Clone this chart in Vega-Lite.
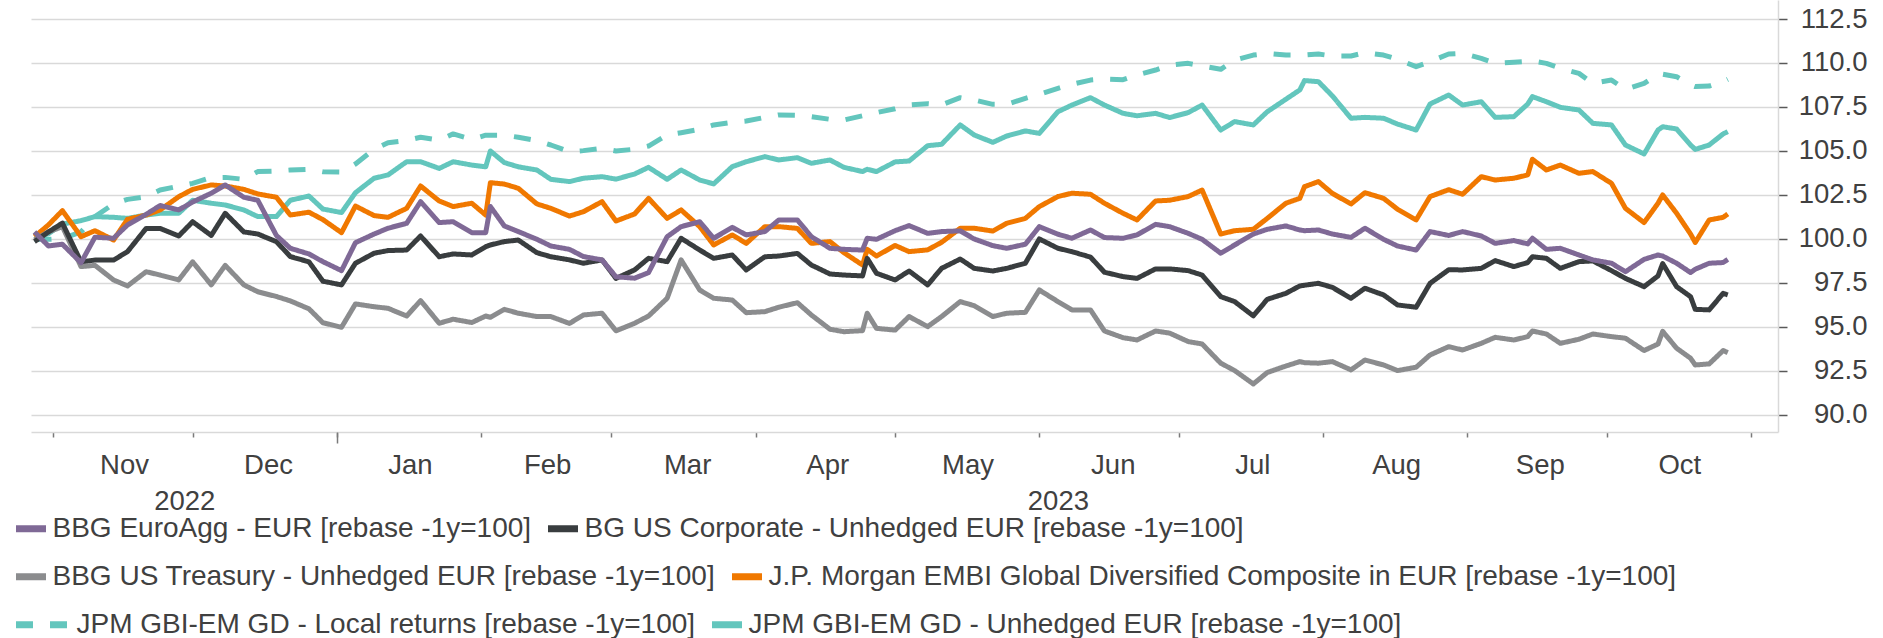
{
  "$schema": "https://vega.github.io/schema/vega-lite/v6.json",
  "width": 1747,
  "height": 432,
  "autosize": {"type": "none"},
  "padding": {"left": 31, "top": 0, "right": 105, "bottom": 206},
  "background": "white",
  "config": {"view": {"stroke": null}, "font": "Liberation Sans"},
  "data": {"values": [
    {"date":"2022-10-28","ea":100.4,"corp":99.85,"tsy":99.94,"embi":100.13,"gbil":99.98,"gbiu":100.1},
    {"date":"2022-10-31","ea":99.6,"corp":100.4,"tsy":100.4,"embi":100.8,"gbil":99.98,"gbiu":100.3},
    {"date":"2022-11-03","ea":99.7,"corp":100.9,"tsy":100.7,"embi":101.61,"gbil":100.02,"gbiu":100.85},
    {"date":"2022-11-07","ea":98.65,"corp":98.7,"tsy":98.43,"embi":100.13,"gbil":100.4,"gbiu":101.04},
    {"date":"2022-11-10","ea":100.1,"corp":98.8,"tsy":98.5,"embi":100.47,"gbil":101.27,"gbiu":101.27},
    {"date":"2022-11-14","ea":100.04,"corp":98.8,"tsy":97.67,"embi":99.94,"gbil":101.99,"gbiu":101.23},
    {"date":"2022-11-17","ea":100.8,"corp":99.28,"tsy":97.33,"embi":101.12,"gbil":102.25,"gbiu":101.17},
    {"date":"2022-11-21","ea":101.4,"corp":100.6,"tsy":98.14,"embi":101.36,"gbil":102.4,"gbiu":101.36},
    {"date":"2022-11-24","ea":101.9,"corp":100.6,"tsy":97.95,"embi":101.65,"gbil":102.78,"gbiu":101.46},
    {"date":"2022-11-28","ea":101.65,"corp":100.17,"tsy":97.67,"embi":102.4,"gbil":103.0,"gbiu":101.46},
    {"date":"2022-12-01","ea":102.1,"corp":100.98,"tsy":98.7,"embi":102.82,"gbil":103.16,"gbiu":102.2},
    {"date":"2022-12-05","ea":102.6,"corp":100.2,"tsy":97.39,"embi":103.07,"gbil":103.49,"gbiu":102.03},
    {"date":"2022-12-08","ea":103.07,"corp":101.46,"tsy":98.5,"embi":103.01,"gbil":103.5,"gbiu":101.93},
    {"date":"2022-12-12","ea":102.37,"corp":100.4,"tsy":97.39,"embi":102.82,"gbil":103.39,"gbiu":101.65},
    {"date":"2022-12-15","ea":102.2,"corp":100.28,"tsy":97.0,"embi":102.56,"gbil":103.83,"gbiu":101.27},
    {"date":"2022-12-19","ea":100.2,"corp":99.85,"tsy":96.73,"embi":102.37,"gbil":103.86,"gbiu":101.27},
    {"date":"2022-12-22","ea":99.47,"corp":99.0,"tsy":96.48,"embi":101.36,"gbil":103.92,"gbiu":102.2},
    {"date":"2022-12-26","ea":99.15,"corp":98.7,"tsy":96.03,"embi":101.52,"gbil":103.96,"gbiu":102.44},
    {"date":"2022-12-29","ea":98.71,"corp":97.6,"tsy":95.24,"embi":101.1,"gbil":103.82,"gbiu":101.7},
    {"date":"2023-01-02","ea":98.2,"corp":97.39,"tsy":94.98,"embi":100.36,"gbil":103.8,"gbiu":101.5},
    {"date":"2023-01-05","ea":99.79,"corp":98.62,"tsy":96.31,"embi":101.87,"gbil":104.26,"gbiu":102.63},
    {"date":"2023-01-09","ea":100.28,"corp":99.19,"tsy":96.15,"embi":101.33,"gbil":105.1,"gbiu":103.45},
    {"date":"2023-01-12","ea":100.61,"corp":99.34,"tsy":96.06,"embi":101.23,"gbil":105.47,"gbiu":103.64},
    {"date":"2023-01-16","ea":100.89,"corp":99.37,"tsy":95.62,"embi":101.74,"gbil":105.6,"gbiu":104.39},
    {"date":"2023-01-19","ea":102.12,"corp":100.17,"tsy":96.5,"embi":103.01,"gbil":105.78,"gbiu":104.39},
    {"date":"2023-01-23","ea":100.93,"corp":98.99,"tsy":95.21,"embi":102.16,"gbil":105.62,"gbiu":104.01},
    {"date":"2023-01-26","ea":100.98,"corp":99.15,"tsy":95.44,"embi":101.84,"gbil":105.97,"gbiu":104.39},
    {"date":"2023-01-30","ea":100.36,"corp":99.09,"tsy":95.25,"embi":102.03,"gbil":105.66,"gbiu":104.2},
    {"date":"2023-02-02","ea":100.36,"corp":99.56,"tsy":95.62,"embi":101.36,"gbil":105.9,"gbiu":104.1},
    {"date":"2023-02-03","ea":101.84,"corp":99.66,"tsy":95.55,"embi":103.2,"gbil":105.9,"gbiu":105.0},
    {"date":"2023-02-06","ea":100.74,"corp":99.85,"tsy":96.0,"embi":103.12,"gbil":105.9,"gbiu":104.34},
    {"date":"2023-02-09","ea":100.42,"corp":99.94,"tsy":95.78,"embi":102.88,"gbil":105.78,"gbiu":104.1},
    {"date":"2023-02-13","ea":99.98,"corp":99.22,"tsy":95.59,"embi":101.99,"gbil":105.59,"gbiu":103.92},
    {"date":"2023-02-16","ea":99.6,"corp":98.99,"tsy":95.59,"embi":101.74,"gbil":105.34,"gbiu":103.39},
    {"date":"2023-02-20","ea":99.41,"corp":98.81,"tsy":95.2,"embi":101.3,"gbil":104.96,"gbiu":103.26},
    {"date":"2023-02-23","ea":99.0,"corp":98.62,"tsy":95.68,"embi":101.55,"gbil":105.02,"gbiu":103.45},
    {"date":"2023-02-27","ea":98.81,"corp":98.81,"tsy":95.78,"embi":102.12,"gbil":105.15,"gbiu":103.54},
    {"date":"2023-03-02","ea":97.85,"corp":97.76,"tsy":94.78,"embi":101.02,"gbil":105.0,"gbiu":103.4},
    {"date":"2023-03-06","ea":97.77,"corp":98.24,"tsy":95.21,"embi":101.42,"gbil":105.1,"gbiu":103.69},
    {"date":"2023-03-09","ea":98.09,"corp":98.9,"tsy":95.62,"embi":102.31,"gbil":105.28,"gbiu":104.07},
    {"date":"2023-03-13","ea":100.13,"corp":98.71,"tsy":96.63,"embi":101.17,"gbil":105.91,"gbiu":103.39},
    {"date":"2023-03-16","ea":100.7,"corp":100.04,"tsy":98.81,"embi":101.65,"gbil":106.04,"gbiu":103.92},
    {"date":"2023-03-20","ea":100.98,"corp":99.37,"tsy":97.1,"embi":100.7,"gbil":106.23,"gbiu":103.35},
    {"date":"2023-03-23","ea":100.04,"corp":98.9,"tsy":96.63,"embi":99.66,"gbil":106.48,"gbiu":103.13},
    {"date":"2023-03-27","ea":100.66,"corp":99.09,"tsy":96.53,"embi":100.23,"gbil":106.63,"gbiu":104.11},
    {"date":"2023-03-30","ea":100.23,"corp":98.24,"tsy":95.81,"embi":99.75,"gbil":106.7,"gbiu":104.39},
    {"date":"2023-04-03","ea":100.42,"corp":98.99,"tsy":95.87,"embi":100.7,"gbil":106.91,"gbiu":104.68},
    {"date":"2023-04-06","ea":101.08,"corp":99.03,"tsy":96.12,"embi":100.7,"gbil":107.05,"gbiu":104.49},
    {"date":"2023-04-10","ea":101.08,"corp":99.18,"tsy":96.38,"embi":100.6,"gbil":107.03,"gbiu":104.62},
    {"date":"2023-04-13","ea":100.13,"corp":98.52,"tsy":95.68,"embi":99.75,"gbil":106.95,"gbiu":104.3},
    {"date":"2023-04-17","ea":99.47,"corp":98.01,"tsy":94.87,"embi":99.85,"gbil":106.8,"gbiu":104.49},
    {"date":"2023-04-20","ea":99.41,"corp":97.95,"tsy":94.73,"embi":99.22,"gbil":106.76,"gbiu":104.07},
    {"date":"2023-04-24","ea":99.37,"corp":97.9,"tsy":94.79,"embi":98.52,"gbil":107.0,"gbiu":103.83},
    {"date":"2023-04-25","ea":100.04,"corp":98.9,"tsy":95.78,"embi":99.41,"gbil":107.08,"gbiu":103.96},
    {"date":"2023-04-27","ea":99.98,"corp":98.05,"tsy":94.92,"embi":99.03,"gbil":107.18,"gbiu":103.83},
    {"date":"2023-05-01","ea":100.47,"corp":97.67,"tsy":94.82,"embi":99.63,"gbil":107.4,"gbiu":104.38},
    {"date":"2023-05-04","ea":100.76,"corp":98.18,"tsy":95.59,"embi":99.28,"gbil":107.62,"gbiu":104.43},
    {"date":"2023-05-08","ea":100.32,"corp":97.39,"tsy":95.02,"embi":99.38,"gbil":107.69,"gbiu":105.3},
    {"date":"2023-05-11","ea":100.42,"corp":98.33,"tsy":95.59,"embi":99.81,"gbil":107.62,"gbiu":105.38},
    {"date":"2023-05-15","ea":100.46,"corp":98.86,"tsy":96.44,"embi":100.61,"gbil":108.03,"gbiu":106.48},
    {"date":"2023-05-18","ea":100.0,"corp":98.33,"tsy":96.21,"embi":100.61,"gbil":107.9,"gbiu":105.91},
    {"date":"2023-05-22","ea":99.62,"corp":98.18,"tsy":95.59,"embi":100.45,"gbil":107.65,"gbiu":105.49},
    {"date":"2023-05-25","ea":99.47,"corp":98.33,"tsy":95.78,"embi":100.89,"gbil":107.65,"gbiu":105.85},
    {"date":"2023-05-29","ea":99.7,"corp":98.62,"tsy":95.83,"embi":101.17,"gbil":107.99,"gbiu":106.14},
    {"date":"2023-06-01","ea":100.7,"corp":100.0,"tsy":97.1,"embi":101.84,"gbil":108.22,"gbiu":106.0},
    {"date":"2023-06-05","ea":100.27,"corp":99.47,"tsy":96.44,"embi":102.41,"gbil":108.56,"gbiu":107.23},
    {"date":"2023-06-08","ea":100.04,"corp":99.28,"tsy":95.97,"embi":102.6,"gbil":108.79,"gbiu":107.61},
    {"date":"2023-06-12","ea":100.51,"corp":98.97,"tsy":95.97,"embi":102.54,"gbil":109.03,"gbiu":108.03},
    {"date":"2023-06-15","ea":100.08,"corp":98.11,"tsy":94.77,"embi":102.03,"gbil":109.09,"gbiu":107.61},
    {"date":"2023-06-19","ea":100.04,"corp":97.86,"tsy":94.39,"embi":101.46,"gbil":109.05,"gbiu":107.14},
    {"date":"2023-06-22","ea":100.23,"corp":97.76,"tsy":94.26,"embi":101.08,"gbil":109.32,"gbiu":107.0},
    {"date":"2023-06-26","ea":100.83,"corp":98.3,"tsy":94.77,"embi":102.16,"gbil":109.6,"gbiu":107.14},
    {"date":"2023-06-29","ea":100.7,"corp":98.3,"tsy":94.65,"embi":102.2,"gbil":109.88,"gbiu":106.9},
    {"date":"2023-07-03","ea":100.32,"corp":98.2,"tsy":94.17,"embi":102.41,"gbil":109.98,"gbiu":107.18},
    {"date":"2023-07-06","ea":99.98,"corp":97.95,"tsy":94.03,"embi":102.78,"gbil":109.83,"gbiu":107.61},
    {"date":"2023-07-10","ea":99.19,"corp":96.72,"tsy":92.94,"embi":100.28,"gbil":109.64,"gbiu":106.19},
    {"date":"2023-07-13","ea":99.66,"corp":96.44,"tsy":92.52,"embi":100.47,"gbil":110.17,"gbiu":106.67},
    {"date":"2023-07-17","ea":100.28,"corp":95.63,"tsy":91.76,"embi":100.55,"gbil":110.45,"gbiu":106.48},
    {"date":"2023-07-20","ea":100.55,"corp":96.57,"tsy":92.41,"embi":101.17,"gbil":110.55,"gbiu":107.23},
    {"date":"2023-07-24","ea":100.74,"corp":96.91,"tsy":92.78,"embi":102.03,"gbil":110.45,"gbiu":107.94},
    {"date":"2023-07-27","ea":100.51,"corp":97.33,"tsy":93.03,"embi":102.31,"gbil":110.45,"gbiu":108.47},
    {"date":"2023-07-28","ea":100.47,"corp":97.37,"tsy":92.97,"embi":102.97,"gbil":110.45,"gbiu":109.0},
    {"date":"2023-07-31","ea":100.51,"corp":97.48,"tsy":92.94,"embi":103.26,"gbil":110.51,"gbiu":108.94},
    {"date":"2023-08-03","ea":100.28,"corp":97.25,"tsy":93.03,"embi":102.59,"gbil":110.4,"gbiu":108.13},
    {"date":"2023-08-07","ea":100.09,"corp":96.63,"tsy":92.56,"embi":101.99,"gbil":110.4,"gbiu":106.86},
    {"date":"2023-08-10","ea":100.61,"corp":97.2,"tsy":93.12,"embi":102.63,"gbil":110.59,"gbiu":106.91},
    {"date":"2023-08-14","ea":99.98,"corp":96.82,"tsy":92.84,"embi":102.31,"gbil":110.45,"gbiu":106.86},
    {"date":"2023-08-17","ea":99.6,"corp":96.25,"tsy":92.52,"embi":101.69,"gbil":110.21,"gbiu":106.53},
    {"date":"2023-08-21","ea":99.37,"corp":96.12,"tsy":92.71,"embi":101.08,"gbil":109.79,"gbiu":106.19},
    {"date":"2023-08-24","ea":100.42,"corp":97.48,"tsy":93.41,"embi":102.41,"gbil":110.08,"gbiu":107.67},
    {"date":"2023-08-28","ea":100.2,"corp":98.25,"tsy":93.88,"embi":102.8,"gbil":110.51,"gbiu":108.18},
    {"date":"2023-08-31","ea":100.42,"corp":98.24,"tsy":93.69,"embi":102.54,"gbil":110.55,"gbiu":107.61},
    {"date":"2023-09-04","ea":100.17,"corp":98.33,"tsy":94.07,"embi":103.54,"gbil":110.26,"gbiu":107.8},
    {"date":"2023-09-07","ea":99.75,"corp":98.77,"tsy":94.41,"embi":103.35,"gbil":109.98,"gbiu":106.91},
    {"date":"2023-09-11","ea":99.91,"corp":98.43,"tsy":94.26,"embi":103.45,"gbil":110.04,"gbiu":106.95},
    {"date":"2023-09-14","ea":99.72,"corp":98.66,"tsy":94.45,"embi":103.64,"gbil":110.09,"gbiu":107.67},
    {"date":"2023-09-15","ea":100.04,"corp":98.99,"tsy":94.77,"embi":104.53,"gbil":110.11,"gbiu":108.09},
    {"date":"2023-09-18","ea":99.41,"corp":98.9,"tsy":94.6,"embi":103.92,"gbil":109.98,"gbiu":107.8},
    {"date":"2023-09-21","ea":99.47,"corp":98.33,"tsy":94.07,"embi":104.2,"gbil":109.7,"gbiu":107.48},
    {"date":"2023-09-25","ea":99.09,"corp":98.71,"tsy":94.3,"embi":103.73,"gbil":109.41,"gbiu":107.33},
    {"date":"2023-09-28","ea":98.81,"corp":98.75,"tsy":94.6,"embi":103.83,"gbil":108.84,"gbiu":106.57},
    {"date":"2023-10-02","ea":98.62,"corp":98.2,"tsy":94.45,"embi":103.16,"gbil":109.03,"gbiu":106.48},
    {"date":"2023-10-05","ea":98.14,"corp":97.76,"tsy":94.36,"embi":101.74,"gbil":108.5,"gbiu":105.34},
    {"date":"2023-10-09","ea":98.84,"corp":97.29,"tsy":93.66,"embi":100.93,"gbil":108.84,"gbiu":104.83},
    {"date":"2023-10-12","ea":99.09,"corp":97.9,"tsy":94.03,"embi":102.03,"gbil":109.36,"gbiu":106.19},
    {"date":"2023-10-13","ea":99.03,"corp":98.6,"tsy":94.75,"embi":102.5,"gbil":109.36,"gbiu":106.38},
    {"date":"2023-10-16","ea":98.62,"corp":97.29,"tsy":93.79,"embi":101.46,"gbil":109.22,"gbiu":106.25},
    {"date":"2023-10-19","ea":98.09,"corp":96.72,"tsy":93.22,"embi":100.28,"gbil":108.75,"gbiu":105.34},
    {"date":"2023-10-20","ea":98.28,"corp":96.0,"tsy":92.84,"embi":99.8,"gbil":108.66,"gbiu":105.09},
    {"date":"2023-10-23","ea":98.62,"corp":95.97,"tsy":92.9,"embi":101.08,"gbil":108.69,"gbiu":105.34},
    {"date":"2023-10-26","ea":98.66,"corp":96.91,"tsy":93.66,"embi":101.23,"gbil":108.94,"gbiu":105.97},
    {"date":"2023-10-27","ea":98.84,"corp":96.82,"tsy":93.54,"embi":101.42,"gbil":109.07,"gbiu":106.1}
  ]},
  "transform": [{"fold": ["gbiu", "gbil", "embi", "tsy", "corp", "ea"], "as": ["series", "value"]}],
  "layer": [
    {
      "mark": {"type": "line", "strokeWidth": 5, "strokeJoin": "round", "strokeCap": "butt"},
      "encoding": {
        "x": {
          "field": "date", "type": "temporal",
          "scale": {"type": "utc", "domain": [
            {"year": 2022, "month": 10, "date": 27, "hours": 6, "utc": true},
            {"year": 2023, "month": 11, "date": 6, "hours": 19, "utc": true}
          ]},
          "axis": {
            "orient": "bottom", "title": null, "grid": false, "labels": false,
            "values": [
              {"year": 2022, "month": 11, "date": 1, "utc": true},
              {"year": 2022, "month": 12, "date": 1, "utc": true},
              {"year": 2023, "month": 1, "date": 1, "utc": true},
              {"year": 2023, "month": 2, "date": 1, "utc": true},
              {"year": 2023, "month": 3, "date": 1, "utc": true},
              {"year": 2023, "month": 4, "date": 1, "utc": true},
              {"year": 2023, "month": 5, "date": 1, "utc": true},
              {"year": 2023, "month": 6, "date": 1, "utc": true},
              {"year": 2023, "month": 7, "date": 1, "utc": true},
              {"year": 2023, "month": 8, "date": 1, "utc": true},
              {"year": 2023, "month": 9, "date": 1, "utc": true},
              {"year": 2023, "month": 10, "date": 1, "utc": true},
              {"year": 2023, "month": 11, "date": 1, "utc": true}
            ],
            "ticks": true, "tickSize": 5, "tickColor": "#7a7a7a", "tickWidth": 1.5,
            "domain": true, "domainColor": "#d9d9d9", "domainWidth": 1.5
          }
        },
        "y": {
          "field": "value", "type": "quantitative",
          "scale": {"domain": [89.03, 113.58], "nice": false, "zero": false},
          "axis": {
            "orient": "right", "title": null,
            "values": [90, 92.5, 95, 97.5, 100, 102.5, 105, 107.5, 110, 112.5],
            "format": ".1f",
            "grid": true, "gridColor": "#d9d9d9", "gridWidth": 1.5,
            "domain": true, "domainColor": "#d9d9d9", "domainWidth": 1.5,
            "ticks": true, "tickColor": "#595959", "tickSize": 9, "tickWidth": 1.5,
            "labelFont": "Liberation Sans", "labelFontSize": 27.5, "labelColor": "#404040",
            "labelAlign": "right", "labelPadding": 80, "labelOverlap": false, "labelBound": false
          }
        },
        "color": {
          "field": "series", "type": "nominal",
          "scale": {
            "domain": ["ea", "corp", "tsy", "embi", "gbil", "gbiu"],
            "range": ["#7f6996", "#393d3f", "#8b8c8e", "#f07800", "#63c6bd", "#63c6bd"]
          },
          "legend": {
            "title": null, "orient": "none", "legendX": -18.5, "legendY": 510,
            "direction": "horizontal", "values": ["ea", "corp"],
            "columnPadding": 2, "padding": 0,
            "symbolType": "stroke", "symbolSize": 900, "symbolStrokeWidth": 7,
            "labelFont": "Liberation Sans", "labelFontSize": 28, "labelColor": "#404040",
            "labelOffset": 3, "labelLimit": 2000,
            "labelExpr": "datum.value == 'ea' ? 'BBG EuroAgg - EUR [rebase -1y=100]' : 'BG US Corporate - Unhedged EUR [rebase -1y=100]'"
          }
        },
        "strokeDash": {
          "field": "series", "type": "nominal",
          "scale": {
            "domain": ["gbil", "ea", "corp", "tsy", "embi", "gbiu"],
            "range": [[17, 17], [1, 0], [1, 0], [1, 0], [1, 0], [1, 0]]
          },
          "legend": {
            "title": null, "orient": "none", "legendX": -18.5, "legendY": 558,
            "direction": "horizontal", "values": ["tsy", "embi"],
            "columnPadding": 2, "padding": 0,
            "symbolType": "stroke", "symbolSize": 900, "symbolStrokeWidth": 7,
            "labelFont": "Liberation Sans", "labelFontSize": 28, "labelColor": "#404040",
            "labelOffset": 3, "labelLimit": 2000,
            "labelExpr": "datum.value == 'tsy' ? 'BBG US Treasury - Unhedged EUR [rebase -1y=100]' : 'J.P. Morgan EMBI Global Diversified Composite in EUR [rebase -1y=100]'",
            "encode": {"symbols": {"update": {"stroke": {"signal": "scale('color', datum.value)"}}}}
          }
        },
        "opacity": {
          "field": "series", "type": "nominal",
          "scale": {
            "type": "ordinal",
            "domain": ["gbiu", "gbil", "embi", "tsy", "corp", "ea"],
            "range": [1, 1, 1, 1, 1, 1]
          },
          "legend": {
            "title": null, "orient": "none", "legendX": -18.5, "legendY": 606,
            "direction": "horizontal", "values": ["gbil", "gbiu"],
            "columnPadding": 2, "padding": 0,
            "symbolType": "stroke", "symbolSize": 900, "symbolStrokeWidth": 7,
            "labelFont": "Liberation Sans", "labelFontSize": 28, "labelColor": "#404040",
            "labelOffset": 3, "labelLimit": 2000,
            "labelExpr": "datum.value == 'gbil' ? 'JPM GBI-EM GD - Local returns [rebase -1y=100]' : 'JPM GBI-EM GD - Unhedged EUR [rebase -1y=100]'",
            "encode": {
              "symbols": {"update": {
                "stroke": {"signal": "scale('color', datum.value)"},
                "strokeDash": {"signal": "datum.value == 'gbil' ? [17, 17] : [1, 0]"},
                "size": {"signal": "datum.value == 'gbil' ? 2916 : 900"},
                "x": {"signal": "datum.value == 'gbil' ? 30.5 : 18.5"}
              }},
              "labels": {"update": {"dx": {"signal": "datum.value == 'gbil' ? 24 : 0"}}}
            }
          }
        }
      }
    },
    {
      "mark": {"type": "rule", "opacity": 0},
      "encoding": {
        "x": {
          "field": "date", "type": "temporal",
          "axis": {
            "orient": "bottom", "title": null, "grid": false, "domain": false,
            "ticks": false, "tickSize": 0,
            "values": [
              {"year": 2022, "month": 11, "date": 16, "hours": 6, "utc": true},
              {"year": 2022, "month": 12, "date": 17, "hours": 5, "utc": true},
              {"year": 2023, "month": 1, "date": 16, "hours": 17, "utc": true},
              {"year": 2023, "month": 2, "date": 15, "hours": 5, "utc": true},
              {"year": 2023, "month": 3, "date": 17, "hours": 7, "utc": true},
              {"year": 2023, "month": 4, "date": 16, "hours": 10, "utc": true},
              {"year": 2023, "month": 5, "date": 16, "hours": 14, "utc": true},
              {"year": 2023, "month": 6, "date": 16, "hours": 19, "utc": true},
              {"year": 2023, "month": 7, "date": 16, "hours": 19, "utc": true},
              {"year": 2023, "month": 8, "date": 16, "hours": 17, "utc": true},
              {"year": 2023, "month": 9, "date": 16, "hours": 14, "utc": true},
              {"year": 2023, "month": 10, "date": 16, "hours": 14, "utc": true}
            ],
            "labelExpr": "utcFormat(datum.value, '%b')",
            "labelFont": "Liberation Sans", "labelFontSize": 27.5, "labelColor": "#404040",
            "labelPadding": 19, "labelOverlap": false, "labelFlush": false, "labelBound": false
          }
        }
      }
    },
    {
      "mark": {"type": "rule", "opacity": 0},
      "encoding": {
        "x": {
          "field": "date", "type": "temporal",
          "axis": {
            "orient": "bottom", "title": null, "grid": false, "domain": false, "labels": false,
            "values": [{"year": 2023, "month": 1, "date": 1, "utc": true}],
            "ticks": true, "tickSize": 11, "tickColor": "#7a7a7a", "tickWidth": 1.5
          }
        }
      }
    },
    {
      "mark": {"type": "rule", "opacity": 0},
      "encoding": {
        "x": {
          "field": "date", "type": "temporal",
          "axis": {
            "orient": "bottom", "title": null, "grid": false, "domain": false,
            "ticks": false, "tickSize": 0,
            "values": [
              {"year": 2022, "month": 11, "date": 29, "hours": 5, "utc": true},
              {"year": 2023, "month": 6, "date": 5, "utc": true}
            ],
            "labelExpr": "utcFormat(datum.value, '%Y')",
            "labelFont": "Liberation Sans", "labelFontSize": 27.5, "labelColor": "#404040",
            "labelPadding": 55, "labelOverlap": false, "labelFlush": false, "labelBound": false
          }
        }
      }
    }
  ],
  "resolve": {"axis": {"x": "independent"}}
}
